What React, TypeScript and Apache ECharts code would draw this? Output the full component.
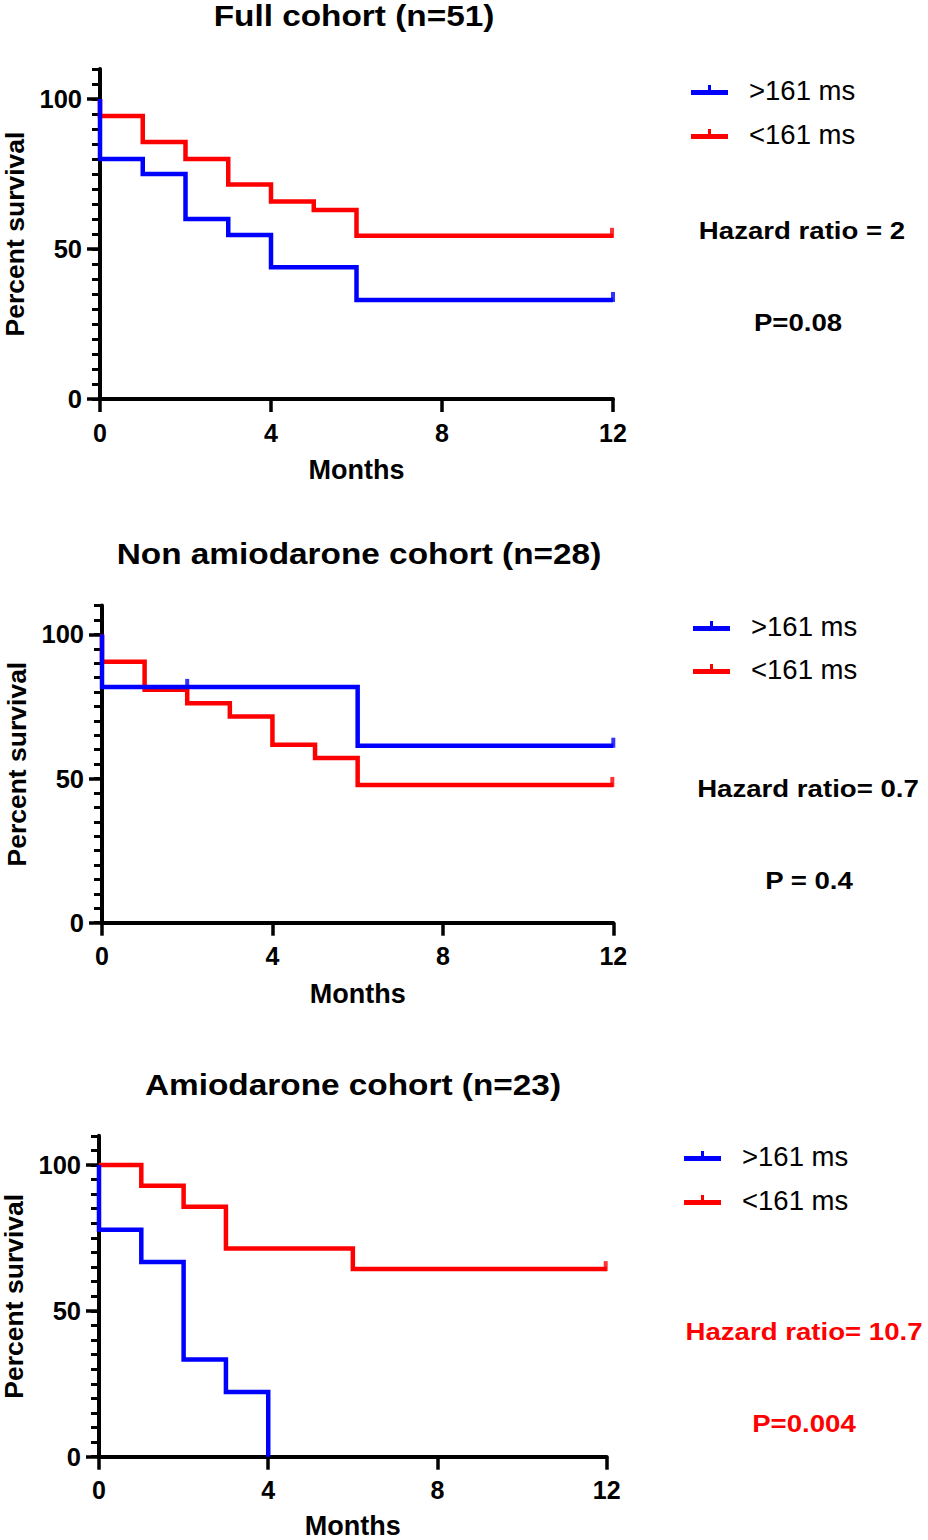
import React, { useEffect, useRef } from 'react';
import * as echarts from 'echarts';

const FONT = "'Liberation Sans', Arial, Helvetica, sans-serif";
const BLUE = '#0000FF';
const RED = '#FF0000';

// ---------- data ----------
const legendNames = ['>161 ms', '<161 ms'];
const yTickValues = [0, 50, 100];
const panelTitles = ['Full cohort (n=51)', 'Non amiodarone cohort (n=28)', 'Amiodarone cohort (n=23)'];
const hazardTexts = ['Hazard ratio = 2', 'Hazard ratio= 0.7', 'Hazard ratio= 10.7'];
const pTexts = ['P=0.08', 'P = 0.4', 'P=0.004'];

// [month, percent survival] at each event (step after event)
const fullBlue = [[0, 100], [0, 80], [1, 75], [2, 60], [3, 54.7], [4, 43.9], [6, 33], [12, 33]];
const fullRed = [[0, 100], [0, 94.3], [1, 85.7], [2, 80], [3, 71.5], [4, 65.8], [5, 63], [6, 54.4], [12, 54.4]];
const fullBlueCensor = [[12, 33]];
const fullRedCensor = [[12, 54.4]];

const nonAmioBlue = [[0, 100], [0, 81.8], [6, 61.4], [12, 61.4]];
const nonAmioRed = [[0, 100], [0, 90.5], [1, 80.8], [2, 76.1], [3, 71.5], [4, 61.7], [5, 57.1], [6, 47.8], [12, 47.8]];
const nonAmioBlueCensor = [[2, 81.8], [12, 61.4]];
const nonAmioRedCensor = [[12, 47.8]];

const amioBlue = [[0, 100], [0, 77.8], [1, 66.7], [2, 33.3], [3, 22.2], [4, 0]];
const amioRed = [[0, 100], [1, 92.9], [2, 85.7], [3, 71.4], [6, 64.3], [12, 64.3]];
const amioBlueCensor: number[][] = [];
const amioRedCensor = [[12, 64.3]];

const panels = [
  { blue: fullBlue, red: fullRed, blueC: fullBlueCensor, redC: fullRedCensor },
  { blue: nonAmioBlue, red: nonAmioRed, blueC: nonAmioBlueCensor, redC: nonAmioRedCensor },
  { blue: amioBlue, red: amioRed, blueC: amioBlueCensor, redC: amioRedCensor },
];

// ---------- layout ----------
const grids = [
  { left: 100, top: 69, width: 513, height: 330 },
  { left: 102, top: 605.6, width: 511.3, height: 317.1 },
  { left: 99, top: 1135.8, width: 507.7, height: 320.9 },
];
const monthsGap = [60, 60, 58];
const titlePos = [{ x: 354, y: 16 }, { x: 359, y: 554 }, { x: 353, y: 1085 }];
const hazardPos = [{ x: 802, y: 231 }, { x: 808, y: 789 }, { x: 804, y: 1332 }];
const pPos = [{ x: 798, y: 323 }, { x: 809, y: 881 }, { x: 804, y: 1424 }];
const hazardColors = ['#000000', '#000000', RED];
const legendPos = [
  { left: 691, top: 76, gap: 16 },
  { left: 693, top: 612, gap: 15 },
  { left: 684, top: 1142, gap: 16 },
];

const LEGEND_ICON = 'path://M0,5L37,5L37,10L0,10Z M17,0L20,0L20,5L17,5Z';

function buildOption() {
  const xAxis: any[] = [];
  const yAxis: any[] = [];
  const series: any[] = [];
  const legend: any[] = [];
  const graphic: any[] = [];

  panels.forEach((p, i) => {
    xAxis.push({
      type: 'value',
      gridIndex: i,
      min: 0,
      max: 12,
      interval: 4,
      name: 'Months',
      nameLocation: 'middle',
      nameGap: monthsGap[i],
      nameTextStyle: { fontSize: 27, fontWeight: 'bold', color: '#000', fontFamily: FONT, lineHeight: 22 },
      axisLine: { lineStyle: { color: '#000', width: 4 } },
      axisTick: { length: 13, lineStyle: { color: '#000', width: 3.5 } },
      axisLabel: { fontSize: 25, fontWeight: 'bold', color: '#000', fontFamily: FONT, margin: 21 },
      splitLine: { show: false },
    });
    yAxis.push({
      type: 'value',
      gridIndex: i,
      min: 0,
      max: 110,
      interval: 50,
      name: 'Percent survival',
      nameLocation: 'middle',
      nameGap: 72,
      nameTextStyle: { fontSize: 26.5, fontWeight: 'bold', color: '#000', fontFamily: FONT },
      axisLine: { lineStyle: { color: '#000', width: 4 } },
      axisTick: { length: 13, customValues: yTickValues, lineStyle: { color: '#000', width: 3.5 } },
      axisLabel: {
        fontSize: 25.5, fontWeight: 'bold', color: '#000', fontFamily: FONT, margin: 18,
        customValues: yTickValues,
        formatter: (v: number) => (yTickValues.indexOf(v) >= 0 ? String(v) : ''),
      },
      splitLine: { show: false },
    });
    // minor ticks every 5
    yAxis.push({
      type: 'value',
      gridIndex: i,
      min: 0,
      max: 110,
      interval: 5,
      position: 'left',
      axisLine: { show: false },
      axisTick: { length: 8, lineStyle: { color: '#000', width: 3 } },
      axisLabel: { show: false },
      splitLine: { show: false },
    });
    const yIdx = i * 2;
    const lineBase = {
      type: 'line',
      xAxisIndex: i,
      yAxisIndex: yIdx,
      step: 'end',
      showSymbol: false,
      symbol: 'none',
      silent: true,
    };
    series.push({
      ...lineBase,
      name: legendNames[1],
      data: p.red,
      color: RED,
      z: 3,
      lineStyle: { color: RED, width: 4.5, cap: 'butt', join: 'miter' },
    });
    series.push({
      ...lineBase,
      name: legendNames[0],
      data: p.blue,
      color: BLUE,
      z: 4,
      lineStyle: { color: BLUE, width: 4.5, cap: 'butt', join: 'miter' },
    });
    series.push({
      type: 'scatter',
      name: 'censor-red-' + i,
      xAxisIndex: i,
      yAxisIndex: yIdx,
      data: p.redC,
      symbol: 'rect',
      symbolSize: [4, 10],
      symbolOffset: [-1, -3],
      itemStyle: { color: RED },
      z: 3,
      silent: true,
    });
    series.push({
      type: 'scatter',
      name: 'censor-blue-' + i,
      xAxisIndex: i,
      yAxisIndex: yIdx,
      data: p.blueC,
      symbol: 'rect',
      symbolSize: [4, 10],
      symbolOffset: [0, -3],
      itemStyle: { color: BLUE },
      z: 4,
      silent: true,
    });

    legend.push({
      data: legendNames,
      orient: 'vertical',
      left: legendPos[i].left,
      top: legendPos[i].top,
      padding: 0,
      itemGap: legendPos[i].gap,
      itemWidth: 37,
      itemHeight: 10,
      icon: LEGEND_ICON,
      selectedMode: false,
      textStyle: {
        fontSize: 27.5,
        color: '#000',
        fontFamily: FONT,
        lineHeight: 26,
        padding: [0, 0, 0, 16],
      },
    });

    graphic.push({
      type: 'text',
      x: titlePos[i].x,
      y: titlePos[i].y,
      scaleX: 1.15,
      style: {
        text: panelTitles[i],
        fontSize: 29,
        fontWeight: 'bold',
        fontFamily: FONT,
        fill: '#000',
        align: 'center',
        verticalAlign: 'middle',
      },
    });
    graphic.push({
      type: 'text',
      x: hazardPos[i].x,
      y: hazardPos[i].y,
      scaleX: 1.15,
      style: {
        text: hazardTexts[i],
        fontSize: 24,
        fontWeight: 'bold',
        fontFamily: FONT,
        fill: hazardColors[i],
        align: 'center',
        verticalAlign: 'middle',
      },
    });
    graphic.push({
      type: 'text',
      x: pPos[i].x,
      y: pPos[i].y,
      scaleX: 1.15,
      style: {
        text: pTexts[i],
        fontSize: 24,
        fontWeight: 'bold',
        fontFamily: FONT,
        fill: hazardColors[i],
        align: 'center',
        verticalAlign: 'middle',
      },
    });
  });

  return {
    animation: false,
    backgroundColor: '#ffffff',
    textStyle: { fontFamily: FONT },
    grid: grids.map((g) => ({ ...g, containLabel: false, outerBoundsMode: 'none' })),
    xAxis,
    yAxis,
    legend,
    series,
    graphic,
  };
}

export default function App() {
  const ref = useRef<HTMLDivElement>(null);
  useEffect(() => {
    if (!ref.current) return;
    const chart = echarts.init(ref.current, undefined, { renderer: 'svg' });
    chart.setOption(buildOption() as any);
    return () => chart.dispose();
  }, []);
  return (
    <div
      ref={ref}
      style={{ position: 'absolute', left: 0, top: 0, width: 928, height: 1540, background: '#fff' }}
    />
  );
}
